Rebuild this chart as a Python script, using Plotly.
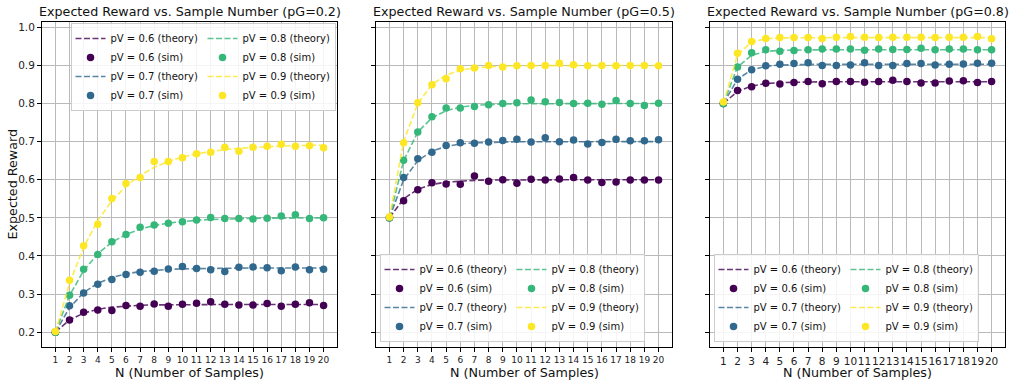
import plotly.graph_objects as go

# ---------------- data ----------------
N_SAMPLES = [1, 2, 3, 4, 5, 6, 7, 8, 9, 10, 11, 12, 13, 14, 15, 16, 17, 18, 19, 20]
PG_VALUES = ["0.2", "0.5", "0.8"]
PV_VALUES = ["0.6", "0.7", "0.8", "0.9"]
Y_TICKS = [0.2, 0.3, 0.4, 0.5, 0.6, 0.7, 0.8, 0.9, 1.0]

# pG = 0.2
THEORY_G02_V06 = [0.2000, 0.2320, 0.2499, 0.2600, 0.2656, 0.2687, 0.2705, 0.2715, 0.2720, 0.2723,
                  0.2725, 0.2726, 0.2727, 0.2727, 0.2727, 0.2727, 0.2727, 0.2727, 0.2727, 0.2727]
THEORY_G02_V07 = [0.2000, 0.2640, 0.3037, 0.3283, 0.3435, 0.3530, 0.3589, 0.3625, 0.3647, 0.3661,
                  0.3670, 0.3675, 0.3679, 0.3681, 0.3682, 0.3683, 0.3683, 0.3684, 0.3684, 0.3684]
THEORY_G02_V08 = [0.2000, 0.2960, 0.3613, 0.4057, 0.4359, 0.4564, 0.4703, 0.4798, 0.4863, 0.4907,
                  0.4937, 0.4957, 0.4971, 0.4980, 0.4986, 0.4991, 0.4994, 0.4996, 0.4997, 0.4998]
THEORY_G02_V09 = [0.2000, 0.3280, 0.4227, 0.4928, 0.5447, 0.5831, 0.6115, 0.6325, 0.6480, 0.6596,
                  0.6681, 0.6744, 0.6790, 0.6825, 0.6850, 0.6869, 0.6883, 0.6894, 0.6901, 0.6907]
SIM_G02_V06 = [0.200, 0.232, 0.252, 0.258, 0.257, 0.270, 0.268, 0.274, 0.268, 0.273,
               0.276, 0.280, 0.273, 0.271, 0.271, 0.275, 0.268, 0.273, 0.277, 0.270]
SIM_G02_V07 = [0.200, 0.269, 0.303, 0.326, 0.338, 0.351, 0.357, 0.360, 0.366, 0.372,
               0.367, 0.364, 0.359, 0.370, 0.371, 0.369, 0.361, 0.371, 0.364, 0.365]
SIM_G02_V08 = [0.200, 0.297, 0.365, 0.404, 0.437, 0.456, 0.475, 0.481, 0.486, 0.490,
               0.494, 0.501, 0.498, 0.498, 0.497, 0.499, 0.505, 0.508, 0.498, 0.500]
SIM_G02_V09 = [0.202, 0.336, 0.427, 0.483, 0.551, 0.590, 0.606, 0.648, 0.648, 0.658,
               0.668, 0.672, 0.685, 0.675, 0.685, 0.688, 0.693, 0.688, 0.689, 0.684]

# pG = 0.5
THEORY_G05_V06 = [0.5000, 0.5500, 0.5750, 0.5875, 0.5938, 0.5969, 0.5984, 0.5992, 0.5996, 0.5998,
                  0.5999, 0.6000, 0.6000, 0.6000, 0.6000, 0.6000, 0.6000, 0.6000, 0.6000, 0.6000]
THEORY_G05_V07 = [0.5000, 0.6000, 0.6500, 0.6750, 0.6875, 0.6938, 0.6969, 0.6984, 0.6992, 0.6996,
                  0.6998, 0.6999, 0.7000, 0.7000, 0.7000, 0.7000, 0.7000, 0.7000, 0.7000, 0.7000]
THEORY_G05_V08 = [0.5000, 0.6500, 0.7250, 0.7625, 0.7813, 0.7906, 0.7953, 0.7977, 0.7988, 0.7994,
                  0.7997, 0.7999, 0.7999, 0.8000, 0.8000, 0.8000, 0.8000, 0.8000, 0.8000, 0.8000]
THEORY_G05_V09 = [0.5000, 0.7000, 0.8000, 0.8500, 0.8750, 0.8875, 0.8938, 0.8969, 0.8984, 0.8992,
                  0.8996, 0.8998, 0.8999, 0.9000, 0.9000, 0.9000, 0.9000, 0.9000, 0.9000, 0.9000]
SIM_G05_V06 = [0.500, 0.545, 0.574, 0.592, 0.589, 0.588, 0.610, 0.596, 0.600, 0.591,
               0.601, 0.599, 0.602, 0.606, 0.599, 0.593, 0.594, 0.599, 0.599, 0.599]
SIM_G05_V07 = [0.500, 0.606, 0.655, 0.672, 0.690, 0.697, 0.696, 0.699, 0.703, 0.706,
               0.699, 0.710, 0.700, 0.704, 0.694, 0.698, 0.706, 0.702, 0.702, 0.705]
SIM_G05_V08 = [0.500, 0.651, 0.725, 0.765, 0.788, 0.788, 0.792, 0.797, 0.800, 0.802,
               0.809, 0.805, 0.803, 0.800, 0.801, 0.798, 0.808, 0.800, 0.795, 0.801]
SIM_G05_V09 = [0.502, 0.697, 0.802, 0.849, 0.865, 0.891, 0.893, 0.900, 0.896, 0.899,
               0.900, 0.900, 0.906, 0.902, 0.899, 0.900, 0.899, 0.900, 0.900, 0.899]

# pG = 0.8
THEORY_G08_V06 = [0.8000, 0.8320, 0.8461, 0.8523, 0.8550, 0.8562, 0.8567, 0.8570, 0.8571, 0.8571,
                  0.8571, 0.8571, 0.8571, 0.8571, 0.8571, 0.8571, 0.8571, 0.8571, 0.8571, 0.8571]
THEORY_G08_V07 = [0.8000, 0.8640, 0.8883, 0.8976, 0.9011, 0.9024, 0.9029, 0.9031, 0.9032, 0.9032,
                  0.9032, 0.9032, 0.9032, 0.9032, 0.9032, 0.9032, 0.9032, 0.9032, 0.9032, 0.9032]
THEORY_G08_V08 = [0.8000, 0.8960, 0.9267, 0.9366, 0.9397, 0.9407, 0.9410, 0.9411, 0.9412, 0.9412,
                  0.9412, 0.9412, 0.9412, 0.9412, 0.9412, 0.9412, 0.9412, 0.9412, 0.9412, 0.9412]
THEORY_G08_V09 = [0.8000, 0.9280, 0.9613, 0.9699, 0.9722, 0.9728, 0.9729, 0.9730, 0.9730, 0.9730,
                  0.9730, 0.9730, 0.9730, 0.9730, 0.9730, 0.9730, 0.9730, 0.9730, 0.9730, 0.9730]
SIM_G08_V06 = [0.800, 0.834, 0.844, 0.853, 0.851, 0.855, 0.858, 0.852, 0.858, 0.858,
               0.856, 0.858, 0.861, 0.858, 0.854, 0.854, 0.859, 0.860, 0.855, 0.858]
SIM_G08_V07 = [0.800, 0.864, 0.889, 0.899, 0.903, 0.905, 0.907, 0.900, 0.900, 0.901,
               0.907, 0.900, 0.900, 0.905, 0.905, 0.901, 0.903, 0.904, 0.906, 0.906]
SIM_G08_V08 = [0.800, 0.896, 0.933, 0.941, 0.937, 0.939, 0.941, 0.943, 0.943, 0.943,
               0.940, 0.943, 0.942, 0.942, 0.945, 0.941, 0.943, 0.943, 0.941, 0.941]
SIM_G08_V09 = [0.804, 0.932, 0.963, 0.971, 0.973, 0.973, 0.973, 0.971, 0.974, 0.976,
               0.974, 0.973, 0.974, 0.974, 0.974, 0.973, 0.974, 0.974, 0.976, 0.970]

THEORY = [
    [THEORY_G02_V06, THEORY_G02_V07, THEORY_G02_V08, THEORY_G02_V09],
    [THEORY_G05_V06, THEORY_G05_V07, THEORY_G05_V08, THEORY_G05_V09],
    [THEORY_G08_V06, THEORY_G08_V07, THEORY_G08_V08, THEORY_G08_V09],
]
SIM = [
    [SIM_G02_V06, SIM_G02_V07, SIM_G02_V08, SIM_G02_V09],
    [SIM_G05_V06, SIM_G05_V07, SIM_G05_V08, SIM_G05_V09],
    [SIM_G08_V06, SIM_G08_V07, SIM_G08_V08, SIM_G08_V09],
]

# ---------------- style / layout ----------------
COLORS = ["#440154", "#31688e", "#35b779", "#fde725"]
FONT = "DejaVu Sans"
W, H = 1009, 385
ML, MR, MT, MB = 42, 4, 22, 38
PW = W - ML - MR
PH = H - MT - MB
PANELS_PX = [(42, 337), (376, 672), (710, 1005)]
DOMAINS = [((a - ML) / PW, (b - ML) / PW) for a, b in PANELS_PX]
XTICK_SIZES = [9, 9, 10.5]
GRID = "#bababa"

fig = go.Figure()

legend_names = ["legend", "legend2", "legend3"]
for p in range(3):
    xa = "x" if p == 0 else f"x{p + 1}"
    ya = "y" if p == 0 else f"y{p + 1}"
    for i, pv in enumerate(PV_VALUES):
        grp = f"p{p}{'a' if i < 2 else 'b'}"
        fig.add_trace(go.Scatter(
            x=N_SAMPLES, y=THEORY[p][i], mode="lines",
            line=dict(color=COLORS[i], width=1.6, dash="6px,2.5px"),
            opacity=0.8, name=f"pV = {pv} (theory)",
            legend=legend_names[p], legendgroup=grp,
            xaxis=xa, yaxis=ya, hoverinfo="skip"))
        fig.add_trace(go.Scatter(
            x=N_SAMPLES, y=SIM[p][i], mode="markers",
            marker=dict(color=COLORS[i], size=7.5, line=dict(width=0)),
            name=f"pV = {pv} (sim)",
            legend=legend_names[p], legendgroup=grp,
            xaxis=xa, yaxis=ya))

axis_common = dict(
    showline=True, linecolor="black", linewidth=1, mirror=True,
    ticks="outside", ticklen=4, tickwidth=1, tickcolor="black",
    showgrid=True, gridcolor=GRID, gridwidth=1, zeroline=False,
    tickangle=0, automargin=False,
)

layout = dict(
    width=W, height=H,
    margin=dict(l=ML, r=MR, t=MT, b=MB, pad=0),
    paper_bgcolor="white", plot_bgcolor="white",
    font=dict(family=FONT, color="black"),
    showlegend=True,
)
for p in range(3):
    sx = "" if p == 0 else str(p + 1)
    layout[f"xaxis{sx}"] = dict(
        axis_common, domain=list(DOMAINS[p]), anchor=f"y{sx}",
        range=[0.05, 20.95], tickmode="array", tickvals=N_SAMPLES,
        ticktext=[str(n) for n in N_SAMPLES],
        tickfont=dict(family=FONT, size=XTICK_SIZES[p], color="#222"))
    layout[f"yaxis{sx}"] = dict(
        axis_common, domain=[0, 1], anchor=f"x{sx}",
        range=[0.161, 1.014], tickmode="array", tickvals=Y_TICKS,
        ticktext=[f"{v:.1f}" for v in Y_TICKS],
        showticklabels=(p == 0),
        tickfont=dict(family=FONT, size=10.5, color="#222"))

legend_common = dict(
    orientation="h", traceorder="grouped",
    bgcolor="rgba(255,255,255,0.85)", bordercolor="#cccccc", borderwidth=1,
    font=dict(family=FONT, size=10, color="#111"),
    entrywidth=87, entrywidthmode="pixels", itemwidth=30,
    xref="paper", yref="paper",
)
layout["legend"] = dict(legend_common, x=(203 - ML) / PW, xanchor="center",
                        y=1 - (23 - MT) / PH, yanchor="top")
layout["legend2"] = dict(legend_common, x=(512 - ML) / PW, xanchor="center",
                         y=(MT + PH - 342) / PH, yanchor="bottom")
layout["legend3"] = dict(legend_common, x=(846 - ML) / PW, xanchor="center",
                         y=(MT + PH - 342) / PH, yanchor="bottom")

annotations = []
for p in range(3):
    cx = (DOMAINS[p][0] + DOMAINS[p][1]) / 2
    annotations.append(dict(
        text=f"Expected Reward vs. Sample Number (pG={PG_VALUES[p]})",
        x=cx, y=1, xref="paper", yref="paper", xanchor="center", yanchor="middle",
        yshift=11, showarrow=False, font=dict(family=FONT, size=12.7, color="#111")))
    annotations.append(dict(
        text="N (Number of Samples)",
        x=cx, y=0, xref="paper", yref="paper", xanchor="center", yanchor="middle",
        yshift=-25, showarrow=False, font=dict(family=FONT, size=12.7, color="#111")))
annotations.append(dict(
    text="Expected Reward", textangle=-90,
    x=0, y=0.5, xref="paper", yref="paper", xanchor="center", yanchor="middle",
    xshift=-30, showarrow=False, font=dict(family=FONT, size=12.7, color="#111")))
layout["annotations"] = annotations

fig.update_layout(**layout)
fig.write_html(
    "out.html",
    config={"displayModeBar": False},
    post_script="document.body.style.margin='0';document.body.style.overflow='hidden';",
)
